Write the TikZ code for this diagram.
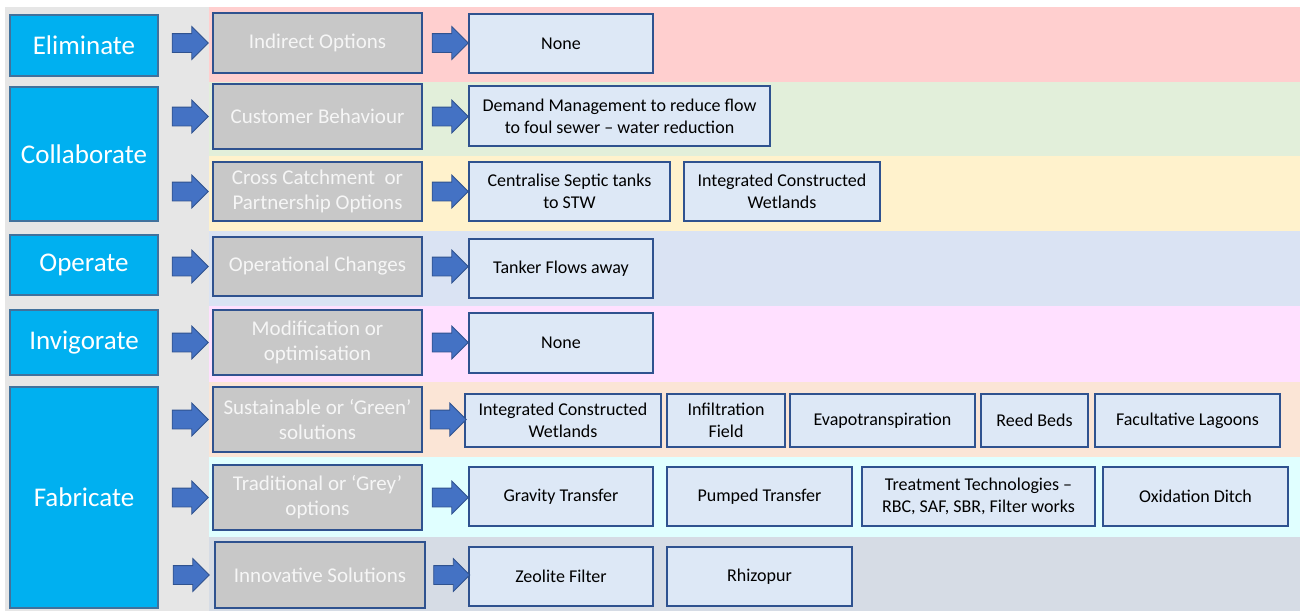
\documentclass[tikz,border=0pt]{standalone}
\usepackage{fontspec}
\setmainfont{Carlito}
\usetikzlibrary{shapes.arrows,calc}

\begin{document}
\begin{tikzpicture}[x=1pt,y=-1pt,
	catbox/.style={draw=catline,fill=catblue,line width=1.2pt,text=white,font=\fontsize{27}{32}\selectfont,inner sep=0pt},
	optbox/.style={draw=boxline,fill=optgray,line width=1.2pt,text=opttext,align=center,font=\fontsize{21}{25}\selectfont,inner sep=0pt},
	solbox/.style={draw=boxline,fill=solfill,line width=1.2pt,text=black,align=center,font=\fontsize{18}{22}\selectfont,inner sep=0pt},
	fatarrow/.style={single arrow,draw=boxline,fill=arrowblue,line width=0.8pt,minimum height=36,inner xsep=0pt,inner ysep=9pt,single arrow head extend=7}]
	\definecolor{leftgray}{RGB}{230,230,230}
	\definecolor{catblue}{RGB}{0,176,240}
	\definecolor{catline}{RGB}{65,113,156}
	\definecolor{boxline}{RGB}{47,82,143}
	\definecolor{optgray}{RGB}{200,200,200}
	\definecolor{opttext}{RGB}{246,246,246}
	\definecolor{solfill}{RGB}{221,232,246}
	\definecolor{arrowblue}{RGB}{68,114,196}
	\definecolor{band1}{RGB}{255,207,207}
	\definecolor{band2}{RGB}{226,239,218}
	\definecolor{band3}{RGB}{255,242,204}
	\definecolor{band4}{RGB}{218,227,243}
	\definecolor{band5}{RGB}{255,224,255}
	\definecolor{band6}{RGB}{251,229,214}
	\definecolor{band7}{RGB}{224,255,255}
	\definecolor{band8}{RGB}{214,220,229}

	\useasboundingbox (0,0) rectangle (1300,611);
	\fill[leftgray] (5,7) rectangle (209,611);
	\fill[band1] (209,7) rectangle (1300,82);
	\fill[band2] (209,82) rectangle (1300,156);
	\fill[band3] (209,156) rectangle (1300,231);
	\fill[band4] (209,231) rectangle (1300,306);
	\fill[band5] (209,306) rectangle (1300,382);
	\fill[band6] (209,382) rectangle (1300,457);
	\fill[band7] (209,457) rectangle (1300,537);
	\fill[band8] (209,537) rectangle (1300,611);

	% left column
	\node[catbox,minimum width=148,minimum height=61] (elim) at (84,45.5) {Eliminate};
	\node[catbox,minimum width=148,minimum height=134] (coll) at (84,154) {Collaborate};
	\node[catbox,minimum width=148,minimum height=60] (oper) at (84,265) {Operate};
	\node[catbox,minimum width=148,minimum height=65] (invig) at (84,342.5) {Invigorate};
	\node[catbox,minimum width=148,minimum height=221] (fabr) at (84,497.5) {Fabricate};

	% option types
	\node[optbox,minimum width=209,minimum height=60] (indirect) at (317.5,43) {Indirect Options};
	\node[optbox,minimum width=209,minimum height=65] (custom) at (317.5,116.5) {Customer Behaviour};
	\node[optbox,minimum width=209,minimum height=59] (cross) at (317.5,191.5) {Cross Catchment\ \ or\\Partnership Options};
	\node[optbox,minimum width=209,minimum height=59] (opchange) at (317.5,266.5) {Operational Changes};
	\node[optbox,minimum width=209,minimum height=65] (modif) at (317.5,342.5) {Modification or\\optimisation};
	\node[optbox,minimum width=209,minimum height=65] (green) at (317.5,419.5) {Sustainable or ‘Green’\\solutions};
	\node[optbox,minimum width=209,minimum height=65] (grey) at (317.5,497.5) {Traditional or ‘Grey’\\options};
	\node[optbox,minimum width=210,minimum height=66] (innov) at (320,575) {Innovative Solutions};

	% solutions
	\node[solbox,minimum width=184,minimum height=59] (none1) at (561,43.5) {None};
	\node[solbox,minimum width=301,minimum height=60] (demand) at (619.5,116) {Demand Management to reduce flow\\to foul sewer -- water reduction};
	\node[solbox,minimum width=201,minimum height=59] (septic) at (569.5,191.5) {Centralise Septic tanks\\to STW};
	\node[solbox,minimum width=196,minimum height=59] (wetland1) at (782,191.5) {Integrated Constructed\\Wetlands};
	\node[solbox,minimum width=184,minimum height=59] (tanker) at (561,268.5) {Tanker Flows away};
	\node[solbox,minimum width=184,minimum height=60] (none2) at (561,343) {None};
	\node[solbox,minimum width=196,minimum height=53] (wetland2) at (563,420.5) {Integrated Constructed\\Wetlands};
	\node[solbox,minimum width=118,minimum height=53] (infil) at (726,420.5) {Infiltration\\Field};
	\node[solbox,minimum width=185,minimum height=53] (evapo) at (882.5,420.5) {Evapotranspiration};
	\node[solbox,minimum width=107,minimum height=53] (reed) at (1034.5,420.5) {Reed Beds};
	\node[solbox,minimum width=185,minimum height=53] (lagoon) at (1187.5,420.5) {Facultative Lagoons};
	\node[solbox,minimum width=184,minimum height=59] (gravity) at (561,496.5) {Gravity Transfer};
	\node[solbox,minimum width=185,minimum height=59] (pumped) at (759.5,496.5) {Pumped Transfer};
	\node[solbox,minimum width=233,minimum height=59] (treat) at (978.5,496.5) {Treatment Technologies --\\RBC, SAF, SBR, Filter works};
	\node[solbox,minimum width=185,minimum height=59] (ditch) at (1195.5,496.5) {Oxidation Ditch};
	\node[solbox,minimum width=184,minimum height=59] (zeolite) at (561,576.5) {Zeolite Filter};
	\node[solbox,minimum width=185,minimum height=59] (rhizo) at (759.5,576.5) {Rhizopur};

	% block arrows, first column
	\node[fatarrow] (a1) at ($(elim.east |- indirect.west)!0.5!(indirect.west)$) {};
	\node[fatarrow] (a2) at ($(coll.east |- custom.west)!0.5!(custom.west)$) {};
	\node[fatarrow] (a3) at ($(coll.east |- cross.west)!0.5!(cross.west)$) {};
	\node[fatarrow] (a4) at ($(oper.east |- opchange.west)!0.5!(opchange.west)$) {};
	\node[fatarrow] (a5) at ($(invig.east |- modif.west)!0.5!(modif.west)$) {};
	\node[fatarrow] (a6) at ($(fabr.east |- green.west)!0.5!(green.west)$) {};
	\node[fatarrow] (a7) at ($(fabr.east |- grey.west)!0.5!(grey.west)$) {};
	\node[fatarrow] (a8) at ($(fabr.east |- innov.west)!0.5!(innov.west)$) {};

	% block arrows, second column
	\node[fatarrow] (b1) at ($(indirect.east)!0.5!(indirect.east -| none1.west)$) {};
	\node[fatarrow] (b2) at ($(custom.east)!0.5!(custom.east -| demand.west)$) {};
	\node[fatarrow] (b3) at ($(cross.east)!0.5!(cross.east -| septic.west)$) {};
	\node[fatarrow] (b4) at ($(opchange.east)!0.5!(opchange.east -| tanker.west)$) {};
	\node[fatarrow] (b5) at ($(modif.east)!0.5!(modif.east -| none2.west)$) {};
	\node[fatarrow] (b6) at ($(green.east)!0.5!(green.east -| wetland2.west)$) {};
	\node[fatarrow] (b7) at ($(grey.east)!0.5!(grey.east -| gravity.west)$) {};
	\node[fatarrow] (b8) at ($(innov.east)!0.5!(innov.east -| zeolite.west)$) {};
\end{tikzpicture}
\end{document}
